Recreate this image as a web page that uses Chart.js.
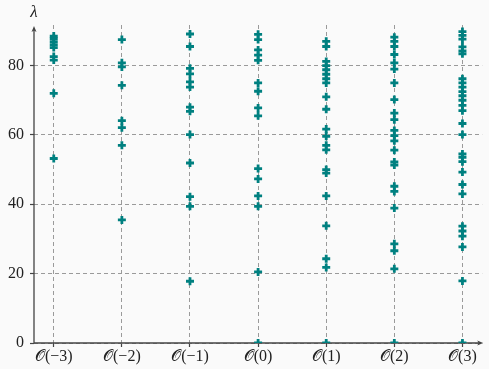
<!DOCTYPE html>
<html lang="en">
<head>
    <meta charset="UTF-8">
    <title>Lambda by order</title>
    <script src="https://cdn.jsdelivr.net/npm/chart.js"></script>
    <style>
        html, body { margin: 0; padding: 0; background: #fafafa; }
        #wrap { width: 489px; height: 369px; position: relative; }
    </style>
</head>
<body>
    <div id="wrap"><canvas id="chart"></canvas></div>

    <script>
        // category positions and labels
        const orders = [-3, -2, -1, 0, 1, 2, 3];
        const orderLabels = ['𝒪(−3)', '𝒪(−2)', '𝒪(−1)', '𝒪(0)', '𝒪(1)', '𝒪(2)', '𝒪(3)'];
        const yTicks = [0, 20, 40, 60, 80];

        // lambda values read per column
        const lamM3 = [88.5, 87.8, 86.9, 86.0, 85.2, 82.6, 81.6, 72.0, 53.2];
        const lamM2 = [87.5, 80.8, 79.6, 74.3, 64.1, 62.1, 57.0, 35.5];
        const lamM1 = [89.1, 85.5, 79.2, 77.6, 75.3, 73.8, 68.0, 66.8, 60.1, 51.9, 42.2, 39.4, 17.8];
        const lam0 = [89.0, 87.5, 84.5, 83.0, 81.5, 75.0, 72.6, 67.8, 65.5, 50.3, 47.3, 42.4, 39.4, 20.5, 0];
        const lam1 = [87.0, 85.5, 81.2, 80.0, 78.8, 77.5, 76.2, 75.0, 71.0, 67.4, 61.7, 59.6, 57.0, 55.7, 50.0, 49.0, 42.4, 33.8, 24.3, 21.8, 0];
        const lam2 = [88.2, 87.0, 85.5, 83.2, 80.8, 79.0, 75.0, 70.2, 66.3, 64.4, 61.3, 59.8, 58.3, 55.6, 52.2, 51.3, 45.2, 43.7, 38.9, 28.6, 26.6, 21.4, 0];
        const lam3 = [89.8, 88.7, 87.6, 85.4, 84.2, 83.4, 76.2, 75.0, 73.8, 72.5, 71.3, 70.0, 68.5, 67.0, 63.3, 60.1, 54.5, 53.5, 52.3, 49.3, 45.7, 43.0, 33.7, 32.3, 30.8, 27.7, 17.9, 0];

        const columns = [lamM3, lamM2, lamM1, lam0, lam1, lam2, lam3];
        const points = [];
        columns.forEach((col, i) => col.forEach(v => points.push({ x: orders[i], y: v })));

        const serif = "'Liberation Serif', 'DejaVu Serif', serif";
        const axisColor = '#444';

        // axis lines with arrow heads, plus the lambda label
        const axesPlugin = {
            id: 'axes',
            beforeDatasetsDraw(chart) {
                const { ctx, chartArea: a } = chart;
                ctx.save();
                ctx.strokeStyle = axisColor;
                ctx.fillStyle = axisColor;
                ctx.lineWidth = 1.3;
                ctx.beginPath();
                ctx.moveTo(a.left, a.bottom + 0.5);
                ctx.lineTo(a.left, a.top + 4);
                ctx.moveTo(a.left - 0.5, a.bottom);
                ctx.lineTo(a.right - 3, a.bottom);
                ctx.stroke();
                // y arrow
                ctx.beginPath();
                ctx.moveTo(a.left, a.top + 1);
                ctx.lineTo(a.left - 2.5, a.top + 7);
                ctx.lineTo(a.left, a.top + 5.5);
                ctx.lineTo(a.left + 2.5, a.top + 7);
                ctx.closePath();
                ctx.fill();
                // x arrow
                ctx.beginPath();
                ctx.moveTo(a.right + 1, a.bottom);
                ctx.lineTo(a.right - 5, a.bottom - 2.5);
                ctx.lineTo(a.right - 3.5, a.bottom);
                ctx.lineTo(a.right - 5, a.bottom + 2.5);
                ctx.closePath();
                ctx.fill();
                ctx.restore();
            },
            afterDraw(chart) {
                const { ctx, chartArea: a } = chart;
                ctx.save();
                ctx.fillStyle = '#222';
                ctx.font = 'italic 17px ' + serif;
                ctx.textAlign = 'center';
                ctx.textBaseline = 'alphabetic';
                ctx.fillText('λ', a.left, 17);
                ctx.restore();
            }
        };

        new Chart(document.getElementById('chart'), {
            type: 'scatter',
            data: {
                datasets: [{
                    data: points,
                    pointStyle: 'cross',
                    pointRadius: 4,
                    pointHoverRadius: 4,
                    borderWidth: 2.8,
                    borderColor: '#008080',
                    backgroundColor: '#008080',
                }],
            },
            options: {
                responsive: true,
                maintainAspectRatio: false,
                animation: false,
                layout: { padding: { top: 25, right: 2, left: 0, bottom: 0 } },
                plugins: {
                    legend: { display: false },
                    tooltip: { enabled: false },
                },
                scales: {
                    x: {
                        type: 'linear',
                        min: -3.29,
                        max: 3.29,
                        afterBuildTicks: (s) => { s.ticks = orders.map(v => ({ value: v })); },
                        afterFit: (s) => { s.height = 26; },
                        border: { display: false, dash: [4, 3] },
                        grid: { color: '#9a9a9a', lineWidth: 1, tickLength: 4, tickColor: axisColor, tickWidth: 1.2 },
                        ticks: {
                            color: '#222',
                            padding: 0,
                            maxRotation: 0,
                            font: { family: serif, size: 16 },
                            callback: (v) => orderLabels[orders.indexOf(v)],
                        },
                    },
                    y: {
                        min: 0,
                        max: 91.7,
                        afterBuildTicks: (s) => { s.ticks = yTicks.map(v => ({ value: v })); },
                        afterFit: (s) => { s.width = 34; },
                        border: { display: false, dash: [4, 3] },
                        grid: { color: '#9a9a9a', lineWidth: 1, tickLength: 4, tickColor: axisColor, tickWidth: 1.2 },
                        ticks: {
                            color: '#222',
                            padding: 6,
                            font: { family: serif, size: 16 },
                        },
                    },
                },
            },
            plugins: [axesPlugin],
        });
    </script>
</body>
</html>
